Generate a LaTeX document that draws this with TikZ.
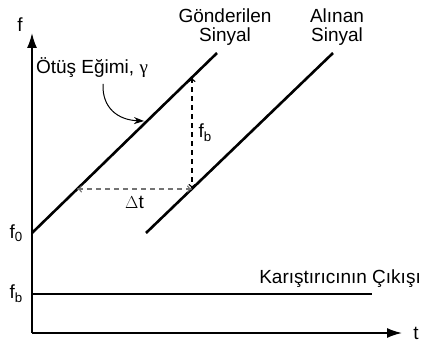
\documentclass[tikz,border=0pt]{standalone}
\usepackage{fontspec}
\setmainfont{Liberation Sans}
\newfontfamily\greekfont{Liberation Serif}
\usetikzlibrary{arrows.meta, positioning, calc}

\begin{document}
\begin{tikzpicture}[
    x=1pt, y=-1pt,
    every node/.style={font=\fontsize{19}{22}\selectfont, inner sep=0pt},
    axis/.style={line width=1.6pt, -{Latex[length=15pt, width=10pt]}},
    signal/.style={line width=2.6pt},
    measure/.style={dashed, line width=1.1pt, dash pattern=on 5pt off 4pt, {To[length=5pt, width=7pt]}-{To[length=5pt, width=7pt]}},
    label/.style={align=center}
]
\useasboundingbox (0,0) rectangle (423,342);

% axes
\coordinate (origin) at (32,333);
\coordinate (ftop) at (32,33);
\coordinate (tend) at (402,333);
\draw[axis] (origin) -- (ftop);
\draw[axis] (origin) -- (tend);
\node (flabel) at (20,25) {f};
\node (tlabel) at (416,333) {t};

% signals
\coordinate (sentStart) at (32,233);
\coordinate (sentEnd) at (217,53);
\coordinate (recvStart) at (146,233);
\coordinate (recvEnd) at (333,53);
\draw[signal] (sentStart) -- (sentEnd);
\draw[signal] (recvStart) -- (recvEnd);
\node[label] (sent) at (225,27) {Gönderilen\\[-3pt]Sinyal};
\node[label] (recv) at (337,27) {Alınan\\[-3pt]Sinyal};
\node[left=9pt of sentStart] (f0) {f\textsubscript{0}};

% mixer output
\coordinate (mixStart) at (32,294);
\coordinate (mixEnd) at (372,294);
\draw[signal] (mixStart) -- (mixEnd);
\node[left=9pt of mixStart] (fb) {f\textsubscript{b}};
\node[anchor=east] (mix) at (421,279) {Karıştırıcının Çıkışı};

% delay and beat frequency
\coordinate (beatTop) at (192,77);
\coordinate (beatBottom) at (192,189);
\coordinate (delayLeft) at (77,189);
\draw[measure] (beatTop) -- node[right=6pt] {f\textsubscript{b}} (beatBottom);
\draw[measure, black!55] (delayLeft) -- node[below=7pt, text=black] {$\Delta$t} (beatBottom);

% slope
\node (slope) at (92,68) {Ötüş Eğimi, {\greekfont γ}};
\coordinate (slopeTip) at (144,121);
\draw[line width=1pt, -{Stealth[length=10pt, width=7pt]}] (103,84) .. controls (102,108) and (118,120) .. (slopeTip);

\end{tikzpicture}
\end{document}
